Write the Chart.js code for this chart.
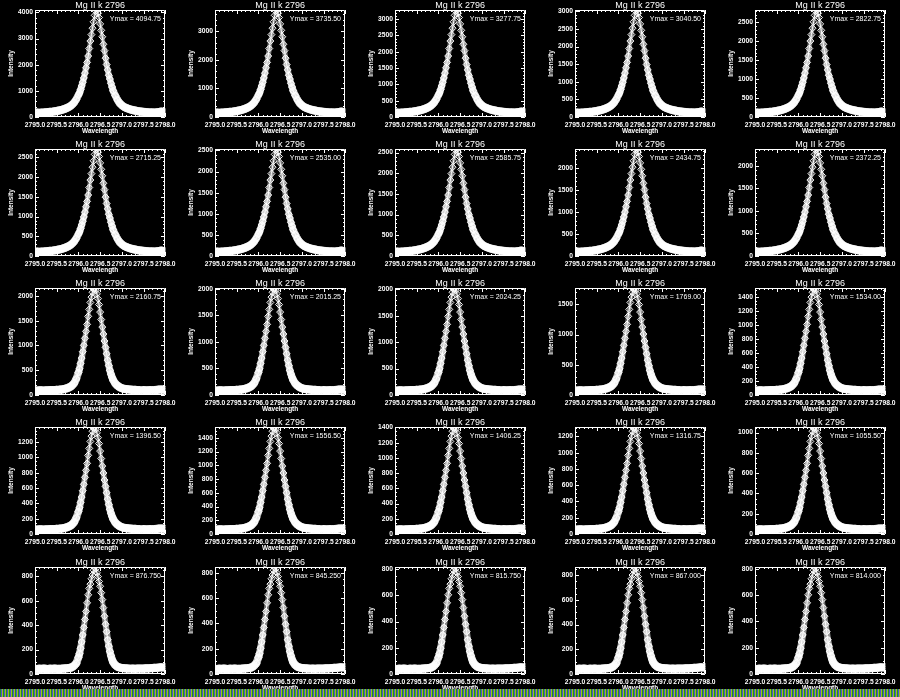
<!DOCTYPE html>
<html><head><meta charset="utf-8">
<script src="https://cdn.jsdelivr.net/npm/chart.js@4.4.0/dist/chart.umd.min.js"></script>
<style>
html,body{margin:0;padding:0;background:#000;}
#wrap{position:relative;width:900px;height:697px;overflow:hidden;background:#000;}
canvas{position:absolute;}
#band{position:absolute;left:0;top:689px;width:900px;height:8px;z-index:5;
background:repeating-linear-gradient(90deg,#1f8f1f 0 1px,#5050d0 1px 2px,#9fbf1f 2px 3px);}
</style></head><body><div id="wrap"><div id="band"></div></div>
<script>
// ---- data ----
const wavelength = [
 2795.00,2795.05,2795.10,2795.15,2795.20,2795.25,2795.30,2795.35,2795.40,2795.45,
 2795.50,2795.55,2795.60,2795.65,2795.70,2795.75,2795.80,2795.85,2795.90,2795.95,
 2796.000,2796.025,2796.050,2796.075,2796.100,2796.125,2796.150,2796.175,2796.200,2796.225,
 2796.250,2796.275,2796.300,2796.325,2796.350,2796.375,2796.400,2796.425,2796.450,2796.475,
 2796.500,2796.525,2796.550,2796.575,2796.600,2796.625,2796.650,2796.675,2796.700,2796.725,
 2796.750,2796.775,2796.800,
 2796.85,2796.90,2796.95,2797.00,2797.05,2797.10,2797.15,2797.20,2797.25,2797.30,
 2797.35,2797.40,2797.45,2797.50,2797.55,2797.60,2797.65,2797.70,2797.75,2797.80,
 2797.85,2797.90,2797.95,2798.00];
// normalized profiles (intensity / Ymax)
const profileA = [
 0.042,0.041,0.040,0.041,0.042,0.043,0.045,0.047,0.049,0.052,0.056,0.060,0.065,0.071,0.078,0.088,0.098,0.113,0.135,0.165,
 0.205,0.225,0.255,0.29,0.325,0.365,0.41,0.46,0.51,0.57,0.64,0.71,0.77,0.83,0.89,0.95,0.99,1.0,0.97,0.93,
 0.87,0.81,0.75,0.68,0.62,0.55,0.49,0.44,0.39,0.355,0.315,0.28,0.245,
 0.20,0.16,0.13,0.11,0.095,0.085,0.077,0.070,0.065,0.060,0.056,0.052,0.050,0.047,0.045,0.044,0.042,0.042,0.041,0.043,
 0.045,0.050,0.047,0.044];
const profileB = [
 0.043,0.042,0.044,0.043,0.042,0.044,0.043,0.045,0.045,0.046,0.047,0.049,0.051,0.054,0.059,0.065,0.074,0.088,0.11,0.15,
 0.21,0.245,0.295,0.345,0.405,0.465,0.53,0.595,0.66,0.735,0.80,0.865,0.915,0.96,0.99,1.0,0.98,0.945,0.9,0.845,
 0.775,0.705,0.635,0.57,0.505,0.445,0.385,0.325,0.275,0.23,0.195,0.165,0.14,
 0.107,0.087,0.073,0.064,0.058,0.055,0.052,0.05,0.048,0.047,0.046,0.045,0.044,0.045,0.043,0.044,0.045,0.046,0.045,0.047,
 0.05,0.053,0.05,0.048];
const profileC = [
 0.048,0.046,0.049,0.047,0.05,0.048,0.046,0.049,0.047,0.05,0.048,0.047,0.049,0.05,0.052,0.054,0.057,0.063,0.078,0.10,
 0.155,0.19,0.24,0.30,0.365,0.435,0.51,0.585,0.665,0.74,0.80,0.84,0.89,0.925,0.97,1.0,0.985,0.945,0.91,0.865,
 0.82,0.76,0.695,0.62,0.54,0.465,0.395,0.32,0.26,0.21,0.17,0.135,0.11,
 0.083,0.068,0.06,0.056,0.054,0.052,0.051,0.05,0.051,0.049,0.05,0.052,0.05,0.051,0.053,0.052,0.054,0.055,0.057,0.058,
 0.06,0.063,0.061,0.065];
const rowProfiles = [profileA, profileA, profileB, profileB, profileC];
const ymaxValues = [
 4094.75, 3735.50, 3277.75, 3040.50, 2822.75,
 2715.25, 2535.00, 2585.75, 2434.75, 2372.25,
 2160.75, 2015.25, 2024.25, 1769.00, 1534.00,
 1396.50, 1556.50, 1406.25, 1316.75, 1055.50,
 876.750, 845.250, 815.750, 867.000, 814.000];
const yStep = [
 1000,1000,500,500,500,
 500,500,500,500,500,
 500,500,500,500,200,
 200,200,200,200,200,
 200,200,200,200,200];
const xMin = 2795.0, xMax = 2798.0, xStep = 0.5, xMinor = 0.1;
const panelTitle = 'Mg II k 2796';
const xTitle = 'Wavelength', yTitle = 'Intensity';

// ---- layout ----
const FONT = '"Liberation Sans", Arial, sans-serif';
const rowTops = [0, 139, 278, 417, 557];
const panelW = 180, panelH = 139;

const idlFrame = {
  id: 'idlFrame',
  afterDraw(chart, args, opts) {
    const {ctx, chartArea} = chart;
    const L = Math.round(chartArea.left), R = Math.round(chartArea.right);
    const T = Math.round(chartArea.top), B = Math.round(chartArea.bottom);
    const xs = chart.scales.x, ys = chart.scales.y;
    ctx.save();
    ctx.strokeStyle = '#fff'; ctx.lineWidth = 1;
    ctx.beginPath();
    ctx.rect(L + 0.5, T + 0.5, R - L - 1, B - T - 1);
    const tick = (len, v, axis) => {
      if (axis === 'x') {
        const p = Math.round(xs.getPixelForValue(v)) + 0.5;
        ctx.moveTo(p, B); ctx.lineTo(p, B - len);
        ctx.moveTo(p, T); ctx.lineTo(p, T + len);
      } else {
        const p = Math.round(ys.getPixelForValue(v)) + 0.5;
        ctx.moveTo(L, p); ctx.lineTo(L + len, p);
        ctx.moveTo(R, p); ctx.lineTo(R - len, p);
      }
    };
    const nx = Math.round((xMax - xMin) / xMinor);
    for (let i = 0; i <= nx; i++) {
      const v = xMin + i * xMinor;
      const major = i % Math.round(xStep / xMinor) === 0;
      tick(major ? 4 : 2, v, 'x');
    }
    const st = opts.step;
    const nMinor = String(st)[0] === '2' ? 4 : 5;
    const ms = st / nMinor;
    for (let k = 0; k * ms <= opts.ymax; k++) {
      tick(k % nMinor === 0 ? 4 : 2, k * ms, 'y');
    }
    ctx.stroke();
    ctx.fillStyle = '#fff';
    ctx.font = '7px ' + FONT;
    ctx.textAlign = 'right'; ctx.textBaseline = 'middle';
    ctx.fillText(opts.label, R - 4, T + 9);
    ctx.restore();
  }
};

const wrap = document.getElementById('wrap');
for (let r = 0; r < 5; r++) {
  for (let c = 0; c < 5; c++) {
    const idx = r * 5 + c;
    const ymax = ymaxValues[idx];
    const step = yStep[idx];
    const prof = rowProfiles[r];
    const pts = wavelength.map((w, i) => ({x: w, y: prof[i] * ymax}));
    const frac = ctx => ((ctx.p0.parsed.y + ctx.p1.parsed.y) / 2) / ymax;
    const cv = document.createElement('canvas');
    const h = (r === 4) ? 140 : panelH;
    cv.width = panelW; cv.height = h;
    cv.style.left = (c * panelW) + 'px';
    cv.style.top = rowTops[r] + 'px';
    cv.style.width = panelW + 'px'; cv.style.height = h + 'px';
    wrap.appendChild(cv);
    new Chart(cv, {
      type: 'line',
      data: {datasets: [{
        data: pts,
        borderColor: '#fff', borderWidth: 1, tension: 0, fill: false,
        pointStyle: 'rectRot', pointRadius: 3.5, pointBorderWidth: 1,
        pointBorderColor: '#fff', pointBackgroundColor: 'rgba(0,0,0,0)'
      }, {
        data: pts,
        borderColor: 'rgba(255,255,255,0.6)', borderWidth: 7, tension: 0, fill: false,
        borderJoinStyle: 'round', borderCapStyle: 'round', pointRadius: 0,
        segment: {
          borderWidth: ctx => 8.5 - 5.5 * frac(ctx),
          borderColor: ctx => 'rgba(255,255,255,' + (0.8 - 0.55 * frac(ctx)).toFixed(2) + ')'
        }
      }]},
      options: {
        responsive: false, animation: false, devicePixelRatio: 1,
        events: [],
        layout: {padding: {left: 0, right: 12, top: 0, bottom: 0}},
        plugins: {
          legend: {display: false}, tooltip: {enabled: false},
          title: {display: true, fullSize: false, text: panelTitle, color: '#fff',
            font: {family: FONT, size: 9, lineHeight: 1, weight: 'normal'},
            padding: {top: 1, bottom: 0}},
          idlFrame: {label: 'Ymax = ' + ymax.toPrecision(6), step: step, ymax: ymax}
        },
        scales: {
          x: {
            type: 'linear', min: xMin, max: xMax,
            afterFit(s) { s.height = h - 117; },
            grid: {display: false, drawTicks: false}, border: {display: false},
            ticks: {stepSize: xStep, autoSkip: false, maxRotation: 0, minRotation: 0,
              color: '#fff', padding: 4.5, font: {family: FONT, size: 6.7, weight: 'bold', lineHeight: 1},
              callback: v => Number(v).toFixed(1)},
            title: {display: true, text: xTitle, color: '#fff',
              font: {family: FONT, size: 6.5, weight: 'bold', lineHeight: 1},
              padding: {top: 0, bottom: h - 131 - 3.25}}
          },
          y: {
            type: 'linear', min: 0, max: ymax,
            afterFit(s) { s.width = 35; },
            afterBuildTicks(s) {
              const t = [];
              for (let k = 0; k * step <= ymax; k++) t.push({value: k * step});
              s.ticks = t;
            },
            grid: {display: false, drawTicks: false}, border: {display: false},
            ticks: {autoSkip: false,
              color: '#fff', padding: 2, font: {family: FONT, size: 6.7, weight: 'bold', lineHeight: 1},
              callback: v => String(Math.round(v))},
            title: {display: true, text: yTitle, color: '#fff',
              font: {family: FONT, size: 6.5, weight: 'bold', lineHeight: 1},
              padding: {top: 7.75, bottom: 0}}
          }
        }
      },
      plugins: [idlFrame]
    });
  }
}
</script></body></html>
